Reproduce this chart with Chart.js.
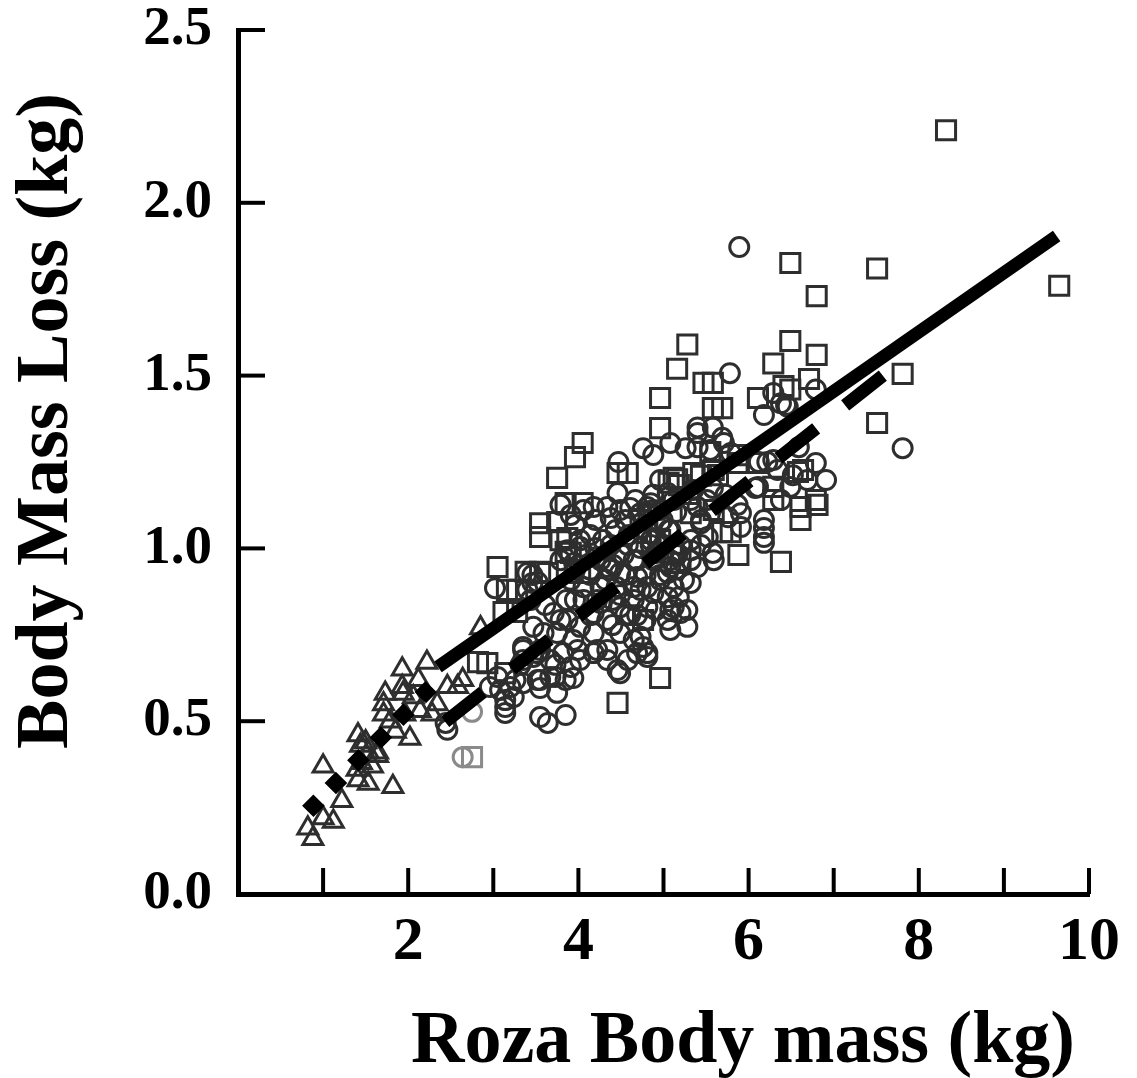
<!DOCTYPE html>
<html><head><meta charset="utf-8">
<script src="https://cdn.jsdelivr.net/npm/chart.js@4/dist/chart.umd.min.js"></script>
<style>html,body{margin:0;padding:0;background:#fff;}canvas{display:block;}</style>
</head><body>
<canvas id="c" width="1137" height="1078"></canvas>
<script>
// ---- Data (x = Roza body mass, kg; y = body mass loss, kg) ----
const xTickValues = [1,2,3,4,5,6,7,8,9,10];
const xTickLabels = [2,4,6,8,10];
const yTickValues = [0.5,1.0,1.5,2.0,2.5];
const xTitle = "Roza Body mass (kg)";
const yTitle = "Body Mass Loss (kg)";

const triangles = [[0.88,0.16],[0.82,0.19],[1.00,0.22],[1.12,0.21],[1.22,0.27],[1.00,0.37],[1.41,0.33],[1.53,0.32],[1.40,0.36],[1.41,0.46],[1.44,0.43],[1.53,0.41],[1.64,0.40],[1.82,0.31],[1.71,0.55],[1.71,0.52],[1.85,0.47],[2.02,0.45],[1.93,0.65],[1.93,0.60],[1.94,0.58],[2.22,0.67],[2.12,0.62],[2.06,0.57],[2.14,0.53],[2.28,0.52],[2.34,0.55],[2.46,0.60],[2.58,0.60],[1.73,0.58],[1.79,0.50],[1.64,0.41],[2.85,0.77],[2.64,0.62],[1.45,0.38],[1.50,0.44],[1.58,0.37],[1.96,0.52]];

const circles = [[6.79,1.46],[6.44,1.415],[7.81,1.29],[5.89,1.872],[5.78,1.507],[6.29,1.45],[6.38,1.42],[6.46,1.41],[6.18,1.386],[5.40,1.35],[5.40,1.334],[5.58,1.35],[5.69,1.32],[4.76,1.29],[4.88,1.27],[5.08,1.305],[5.26,1.29],[5.40,1.293],[5.55,1.285],[5.71,1.305],[5.79,1.276],[6.12,1.25],[6.22,1.25],[6.29,1.256],[6.69,1.198],[6.79,1.247],[6.91,1.198],[6.49,1.178],[6.38,1.14],[6.18,1.082],[6.11,1.178],
[6.34,1.227],[6.52,1.212],[6.59,1.293],[6.18,1.059],[6.18,1.033],[6.18,1.016],[6.08,1.175],[4.96,1.198],[4.88,1.155],[4.81,1.12],[4.88,1.111],[5.35,1.169],[5.40,1.12],[5.58,1.175],[5.73,1.155],[5.87,1.126],[5.91,1.102],[5.76,1.09],[5.91,1.062],[5.44,1.073],[5.52,1.033],[5.58,0.987],[5.59,0.966],[5.32,0.995],[5.40,0.946],[5.24,0.909],[5.32,0.90],[5.18,0.859],[5.28,0.822],[5.12,0.83],[4.85,1.102],[4.96,1.073],[5.08,1.053],[4.85,1.024],[5.00,0.987],[4.88,0.966],[5.08,0.946],[4.96,0.909],[4.81,0.888],[4.88,0.871],[5.05,0.859],
[4.47,1.25],[4.46,1.16],[4.06,1.111],[4.18,1.12],[4.34,1.12],[4.49,1.111],[4.61,1.117],[4.73,1.102],[4.85,1.131],[5.05,1.16],[5.12,1.14],
[3.87,0.995],[4.02,1.004],[4.22,0.975],[3.95,0.958],[4.14,0.938],[4.34,0.946],[4.49,0.987],[4.65,0.966],[4.49,0.929],[4.69,0.917],[5.05,0.929],[5.12,0.888],[4.65,0.888],[4.45,0.888],[4.26,0.888],[4.06,0.888],[3.91,0.909],[3.86,0.851],[4.06,0.851],[4.26,0.842],[4.49,0.83],[4.65,0.851],
[3.35,0.715],[3.52,0.697],[3.67,0.677],[3.82,0.697],[3.91,0.657],[4.02,0.677],[4.18,0.697],[4.34,0.677],[4.49,0.755],[4.65,0.735],[4.76,0.715],[4.81,0.697],[4.49,0.639],[5.20,0.813],[5.05,0.793],[5.28,0.773],[5.08,0.764],
[3.71,0.813],[3.87,0.793],[4.02,0.773],[4.18,0.813],[4.34,0.793],[4.18,0.755],[3.94,0.735],[3.75,0.755],[3.59,0.755],[3.47,0.773],
[3.05,0.628],[3.20,0.599],[3.35,0.61],[3.52,0.619],[3.67,0.628],[3.08,0.59],[2.96,0.599],[3.02,0.885],[3.40,0.929],[3.52,0.903],
[2.44,0.495],[2.46,0.475],[3.24,0.57],[3.14,0.541],[3.14,0.524],[3.26,0.619],[3.55,0.619],[3.55,0.596],[3.75,0.582],[3.55,0.512],[3.64,0.495],[3.85,0.518],[3.73,0.628],[3.94,0.625],[3.35,0.706],[3.47,0.686],[3.35,0.677],[3.99,0.706],[4.22,0.706],[4.34,0.706],[4.46,0.648],[4.58,0.677],[4.69,0.697],[4.81,0.686],[4.73,0.744],[5.08,0.822],[4.81,0.83],[4.69,0.807],
[3.46,0.923],[3.46,0.90],[3.40,0.88],
[3.96,1.068],[4.14,1.039],[4.29,1.024],[4.44,1.053],[4.59,1.039],[4.75,1.059],[4.91,1.03],[5.06,1.053],[5.20,1.01],[4.08,0.981],[4.26,0.966],[4.41,0.952],[4.58,1.01],[4.73,1.001],[4.91,0.987],[5.08,0.966],[5.32,1.024],[4.32,0.909],[4.49,0.865],[4.79,0.923],[4.91,0.822],[3.96,0.851],[4.14,0.807],[4.40,0.778],[4.55,0.807],[5.44,1.082],[5.51,1.14],[4.96,1.111],
[3.79,1.126],[3.91,1.097],[4.20,1.082],[4.38,1.088],[4.55,1.082],[4.67,1.14],[4.82,1.097],[4.99,1.082],[5.15,1.105],[5.32,1.14],[4.02,1.024],[4.20,1.001],[4.38,1.01],[4.53,0.981],[4.69,0.966],[4.85,1.01],[5.00,1.01],[5.16,0.981],[3.79,0.966],[3.96,0.938],[4.14,0.923],[4.38,0.938],[4.55,0.923],[4.73,0.88],[4.96,0.923],[5.14,0.938],[5.32,0.966],[5.44,1.01],[4.22,0.851],[4.40,0.851],[4.61,0.807],[4.79,0.793],[3.79,0.793],[3.61,0.836],[3.44,0.851],[3.55,0.706],[3.73,0.663],[3.85,0.619],[3.32,0.663],[3.14,0.561]];

const squares = [[8.32,2.21],[6.49,1.826],[7.51,1.81],[6.80,1.73],[9.65,1.76],[6.49,1.60],[6.80,1.56],[7.81,1.505],[7.51,1.363],[6.71,1.49],[6.49,1.46],
[5.28,1.59],[5.16,1.52],[6.29,1.535],[4.96,1.435],[5.47,1.479],[5.58,1.479],[6.41,1.47],[6.11,1.435],[5.58,1.406],[5.69,1.406],[4.96,1.348],[4.58,1.218],[5.16,1.20],[5.44,1.21],[5.59,1.227],[5.87,1.247],[6.11,1.247],[6.64,1.227],[6.79,1.14],[6.61,1.12],[6.61,1.082],[6.29,1.178],
[5.55,1.279],[5.88,1.27],[6.58,1.221],[6.81,1.126],[6.29,1.14],[6.38,0.961],[5.88,0.981],[5.12,1.204],[5.18,1.183],[5.35,1.218],[5.64,1.212],[5.69,1.047],[5.79,1.047],[4.73,1.082],[4.81,1.045],[4.96,1.024],[5.12,0.987],[5.20,0.958],
[4.05,1.305],[3.96,1.264],[3.75,1.204],[4.46,1.218],
[3.85,1.131],[4.05,1.131],[3.55,1.073],[3.75,1.076],[3.55,1.033],[3.87,1.03],[3.85,0.99],[3.05,0.946],[3.38,0.932],[3.55,0.932],[3.64,0.929],[3.16,0.88],[3.28,0.88],[3.12,0.816],[3.28,0.816],[2.82,0.671],[2.93,0.668],[3.14,0.639],[4.96,0.625],[4.46,0.553],[4.76,0.793],[3.79,1.024],[3.91,0.987],[4.02,0.929],[5.32,1.102],[5.59,1.111],[5.06,1.19]];

const grayCircles = [[2.75,0.527],[2.64,0.396]];
const graySquares = [[2.75,0.396]];

// regression lines (end points)
const smallFitX = [0.82, 2.27];  const smallFitY = [0.239, 0.60];
const allFitX   = [2.35, 9.62];  const allFitY   = [0.657, 1.904];
const rozaFitX  = [2.435, 7.588]; const rozaFitY = [0.498, 1.502];

// ---- Build ----
const toPts = arr => arr.map(([x,y]) => ({x, y}));
const linePts = (xs, ys) => xs.map((x,i) => ({x, y: ys[i]}));
const MARK = '#2e2e2e';
const GRAY = '#8a8a8a';
const FONT = 'Liberation Serif';

function markerSet(data, style, radius, color, order) {
  return { type:'scatter', data: toPts(data), pointStyle: style, pointRadius: radius,
    pointBorderWidth: 3, pointBorderColor: color, pointBackgroundColor: 'rgba(0,0,0,0)',
    showLine:false, order };
}
function lineSet(xs, ys, width, dash) {
  return { type:'scatter', data: linePts(xs, ys), showLine:true, borderColor:'#000',
    borderWidth: width, borderDash: dash, borderCapStyle:'butt', pointRadius:0, order:0 };
}

const axisDecor = {
  id:'axisDecor',
  afterDraw(chart) {
    const {ctx, chartArea:a, scales:{x, y}} = chart;
    ctx.save();
    ctx.strokeStyle = '#000'; ctx.lineWidth = 4; ctx.lineCap = 'butt';
    xTickValues.forEach(v => {
      const p = x.getPixelForValue(v);
      ctx.beginPath(); ctx.moveTo(p, a.bottom); ctx.lineTo(p, a.bottom - 26); ctx.stroke();
    });
    yTickValues.forEach(v => {
      const p = y.getPixelForValue(v);
      ctx.beginPath(); ctx.moveTo(a.left, p); ctx.lineTo(a.left + 27, p); ctx.stroke();
    });
    ctx.fillStyle = '#000';
    ctx.font = 'bold 74px "' + FONT + '"';
    ctx.textAlign = 'center'; ctx.textBaseline = 'alphabetic';
    ctx.fillText(xTitle, 743, 1062);
    ctx.translate(67, 421); ctx.rotate(-Math.PI/2);
    ctx.fillText(yTitle, 0, 0);
    ctx.restore();
  }
};

new Chart(document.getElementById('c'), {
  type: 'scatter',
  data: { datasets: [
    lineSet(allFitX, allFitY, 13, []),
    lineSet(rozaFitX, rozaFitY, 13, [48, 37]),
    lineSet(smallFitX, smallFitY, 16, [16, 16]),
    markerSet(circles, 'circle', 9.5, MARK, 1),
    markerSet(squares, 'rect', 13.5, MARK, 1),
    markerSet(triangles, 'triangle', 11.5, MARK, 1),
    markerSet(grayCircles, 'circle', 9.5, GRAY, 1),
    markerSet(graySquares, 'rect', 13.5, GRAY, 1)
  ]},
  options: {
    responsive:false, animation:false, devicePixelRatio:1,
    layout:{ padding:{ top:30, right:48, left:0, bottom:0 } },
    plugins:{ legend:{display:false}, tooltip:{enabled:false} },
    scales:{
      x:{ type:'linear', min:0, max:10,
        ticks:{ stepSize:1, autoSkip:false, maxRotation:0, color:'#000', padding:12,
          font:{ family:FONT, size:62, weight:'bold' },
          callback: v => xTickLabels.includes(v) ? String(v) : '' },
        grid:{ display:false, drawTicks:false },
        border:{ display:true, color:'#000', width:5 },
        afterFit: s => { s.height = 184; s.paddingLeft = 0; s.paddingRight = 0; } },
      y:{ type:'linear', min:0, max:2.5,
        ticks:{ stepSize:0.5, color:'#000', padding:26,
          font:{ family:FONT, size:55, weight:'bold' },
          callback: v => Number(v).toFixed(1) },
        grid:{ display:false, drawTicks:false },
        border:{ display:true, color:'#000', width:5 },
        afterFit: s => { s.width = 238; s.paddingTop = 0; s.paddingBottom = 0; } }
    }
  },
  plugins:[axisDecor]
});
</script>
</body></html>
